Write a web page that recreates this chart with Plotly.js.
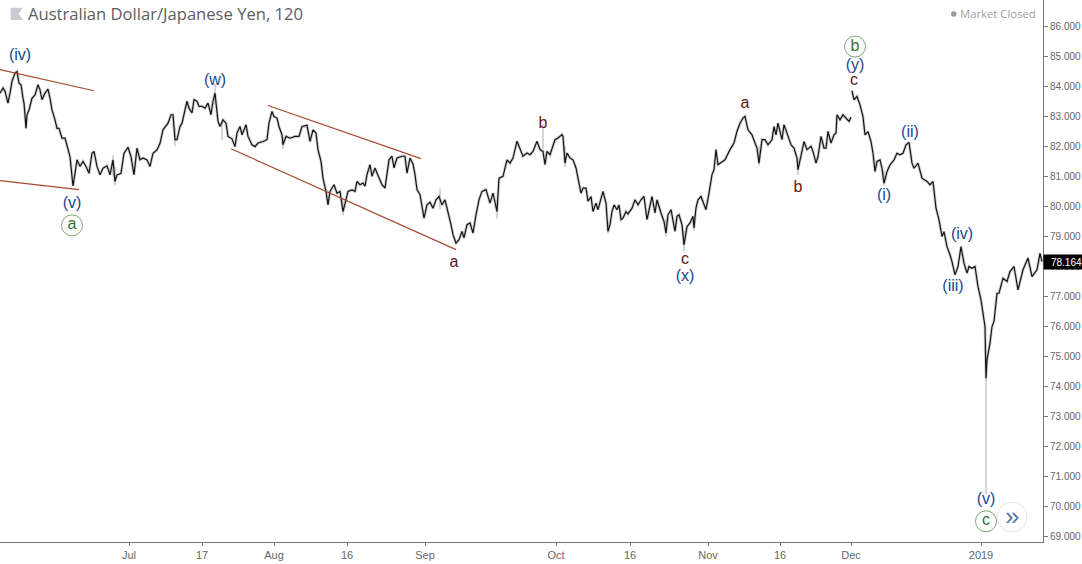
<!DOCTYPE html>
<html><head><meta charset="utf-8">
<script src="https://cdn.plot.ly/plotly-3.0.1.min.js"></script>
<style>html,body{margin:0;padding:0;background:#fff;overflow:hidden}</style>
</head><body><div id="chart" style="width:1082px;height:564px"></div>
<script>
const bars = [0,3,5,7,8,10,12,15,17,19,21,23,24,26,27,29,32,35,38,40,42,45,48,50,52,55,57,59,62,65,68,70,72,73,75,77,80,83,86,89,92,94,97,100,103,107,110,113,115,117,121,124,128,131,134,137,140,143,147,150,153,157,160,163,168,171,173,175,177,180,
182,184,187,189,192,194,197,199,202,205,208,211,213,215,216,218,220,223,226,228,232,235,237,240,242,246,248,252,255,258,263,267,269,272,274,277,279,282,283,286,290,295,299,302,307,310,313,316,318,321,323,326,328,330,334,337,340,343,346,348,352,355,357,360,
363,365,367,370,372,375,377,380,382,385,387,389,392,394,397,402,405,407,410,413,415,417,420,422,424,427,430,433,436,439,442,445,448,451,453,456,459,462,464,467,470,473,476,479,482,486,490,493,497,499,503,507,510,513,517,519,523,527,530,533,537,540,
543,545,547,550,553,555,558,562,563,565,567,570,573,576,578,581,583,586,588,591,593,596,598,601,603,606,608,610,612,614,617,619,621,623,626,628,632,635,638,641,644,647,650,652,655,657,661,664,666,668,671,673,675,677,679,682,684,687,690,693,694,696,698,701,703,706,709,712,714,716,718,720,
725,730,734,737,740,743,745,748,752,755,757,759,762,765,768,772,774,776,778,782,784,787,791,794,797,798,801,804,807,811,813,816,818,821,824,826,828,831,834,836,837,840,843,846,849,851,851.5,
852,854,857,860,863,865,868,871,873,875,877,880,882,884,887,890,894,897,900,903,906,909,912,914,918,922,927,930,933,936,939,942,944,947,950,952,955,958,961,964,967,969,972,975,978,981,983,985,986,987,990,992,994,997,999,1003,1007,1010,1014,1018,1023,1028,1032,1037,1040,1042];
const close = [83.77,83.94,83.83,83.49,83.44,83.77,84.16,84.44,84.49,84.10,84.05,83.60,83.44,82.60,83.05,83.21,83.60,83.71,84.05,83.88,83.55,83.77,83.90,83.60,83.21,82.88,82.60,82.60,82.27,82.27,81.94,81.66,81.00,80.68,81.10,81.55,81.33,81.50,81.33,81.10,81.77,81.83,81.33,81.05,81.27,81.35,81.05,81.55,80.83,81.05,81.10,81.77,81.97,81.66,81.05,81.94,81.55,81.61,81.55,81.33,81.77,81.88,82.10,82.55,82.77,83.05,83.05,82.22,82.22,82.66,
82.77,83.11,83.50,83.27,83.11,83.55,83.50,83.33,83.33,83.27,83.44,83.05,83.50,83.77,83.44,82.83,82.66,82.88,82.77,82.33,82.25,81.99,82.44,82.66,82.38,82.72,82.33,82.05,81.99,82.11,82.16,82.22,82.77,83.16,82.99,82.94,82.66,82.38,82.05,82.33,82.27,82.33,82.33,82.66,82.70,82.16,82.55,82.44,81.89,81.50,80.94,80.50,80.05,80.50,80.72,80.44,80.50,79.83,80.22,80.50,80.55,80.50,80.83,80.72,
80.78,80.67,81.06,81.39,81.00,81.28,81.11,80.89,80.72,80.61,81.17,81.55,81.67,81.28,81.61,81.67,81.67,81.11,81.61,81.41,81.06,80.56,80.39,80.00,79.61,80.05,80.14,79.94,80.22,80.33,80.05,80.22,79.83,79.39,79.06,78.78,78.89,79.17,78.95,79.39,79.45,79.11,79.72,80.22,80.50,80.56,80.11,80.44,79.83,80.94,81.00,81.55,81.44,81.61,82.17,82.00,81.67,81.78,81.72,81.83,82.17,81.89,
81.83,81.39,81.83,81.72,82.00,82.22,82.28,82.39,82.33,81.44,81.78,81.61,81.55,81.28,80.94,80.44,80.61,80.61,80.17,80.33,79.83,80.11,79.89,80.22,80.50,80.11,79.17,79.39,79.83,80.05,79.89,80.05,79.56,79.61,79.83,79.75,79.94,80.22,80.05,80.22,80.33,79.56,80.05,80.33,79.78,80.22,79.78,79.50,79.11,79.72,79.89,79.45,79.17,79.67,79.72,79.39,78.72,79.33,79.45,79.67,79.28,79.95,80.22,80.33,80.17,79.89,80.44,81.06,81.22,81.89,81.39,81.44,
81.55,81.89,82.11,82.50,82.77,82.94,83.00,82.55,82.38,82.11,81.94,81.44,82.22,82.22,82.05,82.22,82.66,82.38,82.77,82.22,82.72,82.44,82.05,81.94,81.61,81.22,81.72,82.16,81.89,82.00,81.83,81.44,81.66,82.33,81.94,81.94,82.50,82.11,82.38,82.44,83.05,82.88,83.05,82.94,82.83,82.97,null,
83.85,83.55,83.66,83.38,82.99,82.38,82.49,82.16,81.77,81.16,81.50,81.55,81.27,80.77,81.16,81.38,81.55,81.77,81.72,81.77,82.05,82.13,81.44,81.27,81.44,80.94,80.83,80.72,80.83,79.94,79.55,79.00,79.16,78.66,78.39,78.16,77.72,78.00,78.66,78.11,77.78,78.00,77.94,78.00,77.33,76.89,76.44,76.00,74.28,74.89,75.45,76.00,76.17,77.11,77.11,77.61,77.50,77.83,78.00,77.22,77.89,78.28,77.66,77.89,78.44,78.16];

const wickBars = [26,26,null,113,113,null,115,115,null,175,175,null,215,215,null,222,222,null,283,283,null,343,343,null,440,440,null,497,497,null,543,543,null,565,565,null,608,608,null,666,666,null,684,684,null,694,694,null,759,759,null,798,798,null,884,884,null,986,986];
const wickPrices = [82.6,83.0,null,81.0,81.7,null,80.7,81.3,null,82.0,82.6,null,83.4,84.1,null,82.2,82.9,null,81.9,82.3,null,79.7,80.3,null,79.9,80.6,null,79.6,80.2,null,81.9,82.75,null,81.3,82.0,null,79.1,79.5,null,79.0,79.6,null,78.5,79.2,null,79.2,79.7,null,81.35,82.0,null,81.05,81.6,null,80.7,81.2,null,70.4,74.4];

const trendX = [0,94,null,0,79,null,268,421,null,231,456];
const trendY = [84.55,83.85,null,80.86,80.56,null,83.36,81.59,null,81.92,78.56];

const navyText = ["(iv)","(w)","(v)","(x)","(y)","(i)","(ii)","(iii)","(iv)","(v)"];
const navyX = [20,215,72,685,855,884,910,953,962,986];
const navyY = [84.99,84.16,80.07,77.64,84.69,80.33,82.46,77.31,79.04,70.22];
const redText = ["a","b","c","a","b","c"];
const redX = [454,543,685,745,798,854];
const redY = [78.11,82.73,78.21,83.40,80.60,84.19];
const greenText = ["a","b","c"];
const greenX = [72,855,986];
const greenY = [79.37,85.32,69.52];

const tickBars = [129,202,274,347,425,556,630,708,780,851,981];
const tickLabels = ["Jul","17","Aug","16","Sep","Oct","16","Nov","16","Dec","2019"];
const priceTicks = [69,70,71,72,73,74,75,76,77,78,79,80,81,82,83,84,85,86];
const lastPrice = 78.164;

const FONT = "Liberation Sans, Arial, sans-serif";
const traces = [
 {x:bars,y:close,mode:"lines",line:{color:"rgba(70,70,70,0.25)",width:3},hoverinfo:"skip",connectgaps:false},
 {x:wickBars,y:wickPrices,mode:"lines",line:{color:"#b9b9b9",width:1.2},hoverinfo:"skip"},
 {x:bars,y:close,mode:"lines",line:{color:"#141414",width:1.2},hoverinfo:"skip",connectgaps:false},
 {x:trendX,y:trendY,mode:"lines",line:{color:"#a8492f",width:1.2},hoverinfo:"skip"},
 {x:navyX,y:navyY,mode:"text",text:navyText,textposition:"middle center",textfont:{family:FONT,size:16,color:"#18478f"},hoverinfo:"skip"},
 {x:redX,y:redY,mode:"text",text:redText,textposition:"middle center",textfont:{family:FONT,size:16,color:"#651616"},hoverinfo:"skip"},
 {x:greenX,y:greenY,mode:"markers+text",text:greenText,textposition:"middle center",
  marker:{size:21,color:"#fff",line:{color:"#78a870",width:1}},
  textfont:{family:FONT,size:16,color:"#35712c"},hoverinfo:"skip"}
];
const layout = {
 width:1082,height:564,showlegend:false,paper_bgcolor:"#fff",plot_bgcolor:"#fff",
 margin:{l:0,r:39,t:0,b:22,pad:0},
 font:{family:FONT,color:"#666"},
 xaxis:{range:[0,1043],tickmode:"array",tickvals:tickBars,ticktext:tickLabels,showgrid:false,zeroline:false,
  showline:true,linecolor:"#777",linewidth:1,ticks:"outside",ticklen:3,tickcolor:"#777",tickfont:{size:11,color:"#666",family:FONT}},
 yaxis:{range:[68.83,86.87],side:"right",tickmode:"array",tickvals:priceTicks,tickformat:".3f",showgrid:false,zeroline:false,
  showline:true,linecolor:"#777",linewidth:1,ticks:"outside",ticklen:4,tickcolor:"#777",tickfont:{size:10,color:"#666",family:FONT}},
 shapes:[
  {type:"path",xref:"paper",yref:"paper",path:"M 0.0102 0.9858 L 0.0220 0.9858 L 0.0178 0.9745 L 0.0220 0.9632 L 0.0102 0.9632 Z",fillcolor:"#c9c9d2",line:{width:0}},
  {type:"circle",xref:"paper",yref:"paper",x0:(997/1043),x1:(1027/1043),y0:(542-532)/542,y1:(542-502)/542,fillcolor:"#fff",line:{color:"#e6e6ec",width:1}},
  {type:"circle",xref:"paper",yref:"paper",x0:(951/1043),x1:(956.5/1043),y0:(542-16.8)/542,y1:(542-11.3)/542,fillcolor:"#999",line:{width:0}}
 ],
 annotations:[
  {xref:"paper",yref:"paper",x:26/1043,y:(542-14)/542,xanchor:"left",yanchor:"middle",showarrow:false,text:"Australian Dollar/Japanese Yen, 120",font:{family:"Open Sans",size:16.6,color:"#5d5d62"}},
  {xref:"paper",yref:"paper",x:1038/1043,y:(542-14)/542,xanchor:"right",yanchor:"middle",showarrow:false,text:"Market Closed",font:{family:"Open Sans",size:11.3,color:"#a0a0a0"}},
  {xref:"paper",yref:"paper",x:1012/1043,y:(542-516)/542,xanchor:"center",yanchor:"middle",showarrow:false,text:"»",font:{family:FONT,size:26,color:"#5f7a9f"}},
  {xref:"paper",yref:"y",x:1.0002,y:lastPrice,xanchor:"left",yanchor:"middle",showarrow:false,text:"78.164",bgcolor:"#000",borderpad:0,font:{family:FONT,size:10,color:"#fff"},width:38,height:14,align:"right"}
 ]
};
Plotly.newPlot("chart",traces,layout,{displayModeBar:false,responsive:false});
</script></body></html>
